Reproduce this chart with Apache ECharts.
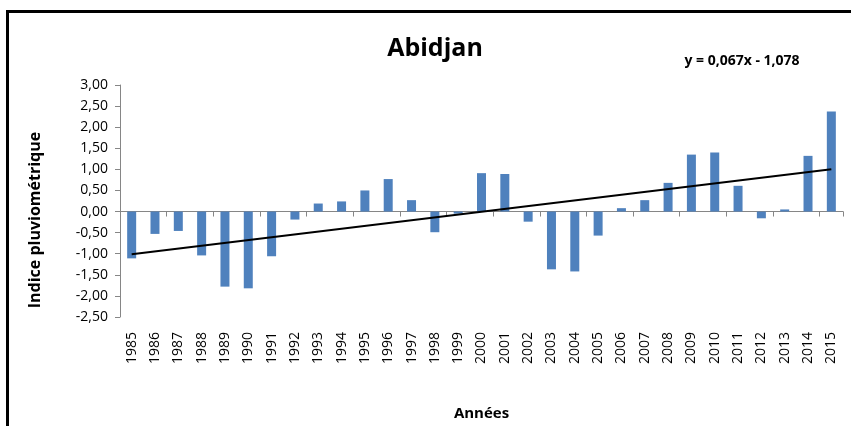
<!DOCTYPE html>
<html>
<head>
<meta charset="utf-8">
<script src="https://cdn.jsdelivr.net/npm/echarts@6/dist/echarts.min.js"></script>
<style>
html,body{margin:0;padding:0;background:#fff;}
#frame{position:absolute;left:6px;top:10px;width:900px;height:500px;border-left:3px solid #000;border-top:3px solid #000;}
#chart{position:absolute;left:0;top:0;width:851px;height:426px;}
</style>
</head>
<body>
<div id="frame"></div>
<div id="chart"></div>
<script>
const years = ['1985','1986','1987','1988','1989','1990','1991','1992','1993','1994','1995','1996','1997','1998','1999','2000','2001','2002','2003','2004','2005','2006','2007','2008','2009','2010','2011','2012','2013','2014','2015'];
const indice = [-1.11,-0.53,-0.46,-1.04,-1.78,-1.82,-1.06,-0.19,0.19,0.24,0.50,0.77,0.27,-0.49,-0.05,0.91,0.89,-0.24,-1.37,-1.42,-0.57,0.08,0.27,0.68,1.35,1.40,0.61,-0.16,0.05,1.32,2.37];
const trendEnds = [['1985',-1.01],['2015',1.00]];
const titleText = 'Abidjan';
const equationText = 'y = 0,067x - 1,078';
const yAxisName = 'Indice pluviométrique';
const xAxisName = 'Années';

const FONT = 'Open Sans';
const chart = echarts.init(document.getElementById('chart'), null, {renderer:'canvas'});
chart.setOption({
  backgroundColor: 'transparent',
  animation: false,
  textStyle: {fontFamily: FONT},
  graphic: [
    {type: 'text', x: 435, y: 49, style: {text: titleText, fontFamily: FONT, fontSize: 25, fontWeight: 'bold', fill: '#000', align: 'center', verticalAlign: 'middle'}},
    {type: 'text', x: 742, y: 61, style: {text: equationText, fontFamily: FONT, fontSize: 14, fontWeight: 'bold', fill: '#000', align: 'center', verticalAlign: 'middle'}},
    {type: 'text', x: 35, y: 220, rotation: Math.PI / 2, style: {text: yAxisName, fontFamily: FONT, fontSize: 16, fontWeight: 'bold', fill: '#000', align: 'center', verticalAlign: 'middle'}}
  ],
  grid: {left: 120, right: 8, top: 85, bottom: 108, containLabel: false},
  xAxis: [
    {type: 'category', data: years, boundaryGap: true,
     axisLine: {onZero: true, lineStyle: {color: '#868686', width: 1}},
     axisTick: {show: true, alignWithLabel: false, length: 5, inside: false, lineStyle: {color: '#868686'}},
     axisLabel: {show: false}},
    {type: 'category', data: years, boundaryGap: true, position: 'bottom',
     axisLine: {show: false}, axisTick: {show: false},
     axisLabel: {rotate: 90, margin: 15, fontSize: 14, color: '#000', fontFamily: FONT, interval: 0},
     name: xAxisName, nameLocation: 'middle', nameGap: 89,
     nameTextStyle: {fontSize: 15, fontWeight: 'bold', color: '#000', fontFamily: FONT}}
  ],
  yAxis: {type: 'value', min: -2.5, max: 3, interval: 0.5,
    axisLine: {show: true, lineStyle: {color: '#868686'}},
    axisTick: {show: true, length: 5, lineStyle: {color: '#868686'}},
    splitLine: {show: false},
    axisLabel: {margin: 12, fontSize: 14, color: '#000', fontFamily: FONT,
      formatter: v => v.toFixed(2).replace('.', ',')}},
  series: [
    {type: 'bar', data: indice, barWidth: 9, itemStyle: {color: '#4F81BD'}, xAxisIndex: 0},
    {type: 'line', data: trendEnds, xAxisIndex: 0, symbol: 'none', lineStyle: {color: '#000', width: 2}, z: 5}
  ]
});
</script>
</body>
</html>
